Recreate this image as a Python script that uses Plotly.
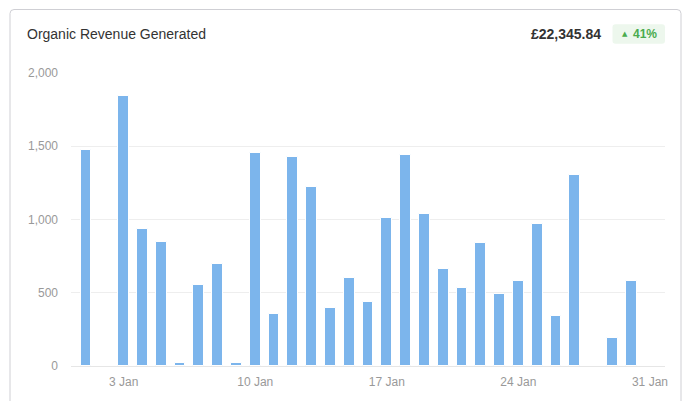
import plotly.graph_objects as go

# ---- data ----
dates = [f"2024-01-{d:02d}" for d in range(1, 32)]
revenue = [1475, 0, 1842, 933, 845, 20, 554, 697, 20, 1452,
           353, 1425, 1220, 394, 599, 438, 1009, 1439, 1036, 660,
           531, 840, 490, 579, 968, 340, 1302, 0, 189, 583, 0]
x_tick_vals = ["2024-01-03", "2024-01-10", "2024-01-17", "2024-01-24", "2024-01-31"]
x_tick_text = ["3 Jan", "10 Jan", "17 Jan", "24 Jan", "31 Jan"]
y_tick_vals = [0, 500, 1000, 1500, 2000]
y_tick_text = ["0", "500", "1,000", "1,500", "2,000"]
title_text = "Organic Revenue Generated"
total_text = "£22,345.84"
change_text = "41%"

# ---- geometry (page pixels; the page body has an 8px margin) ----
OFF = 8
W, H = 690 - OFF, 401 - OFF
PLOT_L, PLOT_R, PLOT_T, PLOT_B = 71, 665, 73, 366   # page pixel coordinates
L, T = PLOT_L - OFF, PLOT_T - OFF
R, B = W - (PLOT_R - OFF), H - (PLOT_B - OFF)
PW, PH = PLOT_R - PLOT_L, PLOT_B - PLOT_T


def px(x):
    return (x - PLOT_L) / PW


def py(y):
    return (PLOT_B - y) / PH


DAY_MS = 86400000

fig = go.Figure()
fig.add_trace(go.Bar(
    x=dates, y=revenue,
    width=0.58 * DAY_MS,
    marker=dict(color="#7cb5ec", line=dict(color="#ffffff", width=1)),
    hoverinfo="x+y",
))

# card outline (left, top, right; bottom is out of view)
x0, x1, ytop, ybot = px(10), px(681), py(9.5), py(430)
rx, ry = 4 / PW, 4 / PH
card_path = (f"M {x0},{ybot} L {x0},{ytop - ry} Q {x0},{ytop} {x0 + rx},{ytop} "
             f"L {x1 - rx},{ytop} Q {x1},{ytop} {x1},{ytop - ry} L {x1},{ybot}")

# badge
bx0, bx1, by0, by1 = px(612.5), px(665), py(43.7), py(24.3)
brx, bry = 3 / PW, 3 / PH
badge_path = (f"M {bx0 + brx},{by0} L {bx1 - brx},{by0} Q {bx1},{by0} {bx1},{by0 + bry} "
              f"L {bx1},{by1 - bry} Q {bx1},{by1} {bx1 - brx},{by1} L {bx0 + brx},{by1} "
              f"Q {bx0},{by1} {bx0},{by1 - bry} L {bx0},{by0 + bry} Q {bx0},{by0} {bx0 + brx},{by0} Z")

fig.update_layout(
    shapes=[
        dict(type="path", path=card_path, xref="paper", yref="paper",
             line=dict(color="#cfcfd4", width=1), layer="below"),
        dict(type="path", path=badge_path, xref="paper", yref="paper",
             fillcolor="#edf7ed", line=dict(width=0), layer="below"),
    ],
    annotations=[
        dict(text=title_text, x=px(24.5), y=py(34), xref="paper", yref="paper",
             xanchor="left", yanchor="middle", showarrow=False,
             font=dict(family="Liberation Sans, Arial", size=14, color="#333333")),
        dict(text=f"<b>{total_text}</b>", x=px(603), y=py(34), xref="paper", yref="paper",
             xanchor="right", yanchor="middle", showarrow=False,
             font=dict(family="Liberation Sans, Arial", size=14, color="#333333")),
        dict(text="▲", x=px(624.5), y=py(34), xref="paper", yref="paper",
             xanchor="center", yanchor="middle", showarrow=False,
             font=dict(family="DejaVu Sans", size=7, color="#4aab4e")),
        dict(text=f"<b>{change_text}</b>", x=px(630.5), y=py(34), xref="paper", yref="paper",
             xanchor="left", yanchor="middle", showarrow=False,
             font=dict(family="Liberation Sans, Arial", size=12, color="#4aab4e")),
    ],
    width=W, height=H,
    margin=dict(l=L, r=R, t=T, b=B, pad=0),
    paper_bgcolor="white", plot_bgcolor="white",
    showlegend=False,
    bargap=0,
    font=dict(family="Liberation Sans, Arial", size=12, color="#999999"),
    xaxis=dict(
        type="date",
        range=["2023-12-31 04:48:00", "2024-01-31 19:12:00"],
        tickvals=x_tick_vals, ticktext=x_tick_text,
        showgrid=False, showline=True, linecolor="#e6e6e6", linewidth=1,
        ticks="", ticklabelstandoff=5,
        tickfont=dict(size=12, color="#999999"),
        fixedrange=True,
    ),
    yaxis=dict(
        range=[0, 2000],
        tickvals=y_tick_vals, ticktext=y_tick_text,
        showgrid=True, gridcolor="#eeeeee", gridwidth=1,
        zeroline=False, showline=False, ticks="",
        ticklabelstandoff=12,
        tickfont=dict(size=12, color="#999999"),
        fixedrange=True,
    ),
)

fig.write_html("out.html")
